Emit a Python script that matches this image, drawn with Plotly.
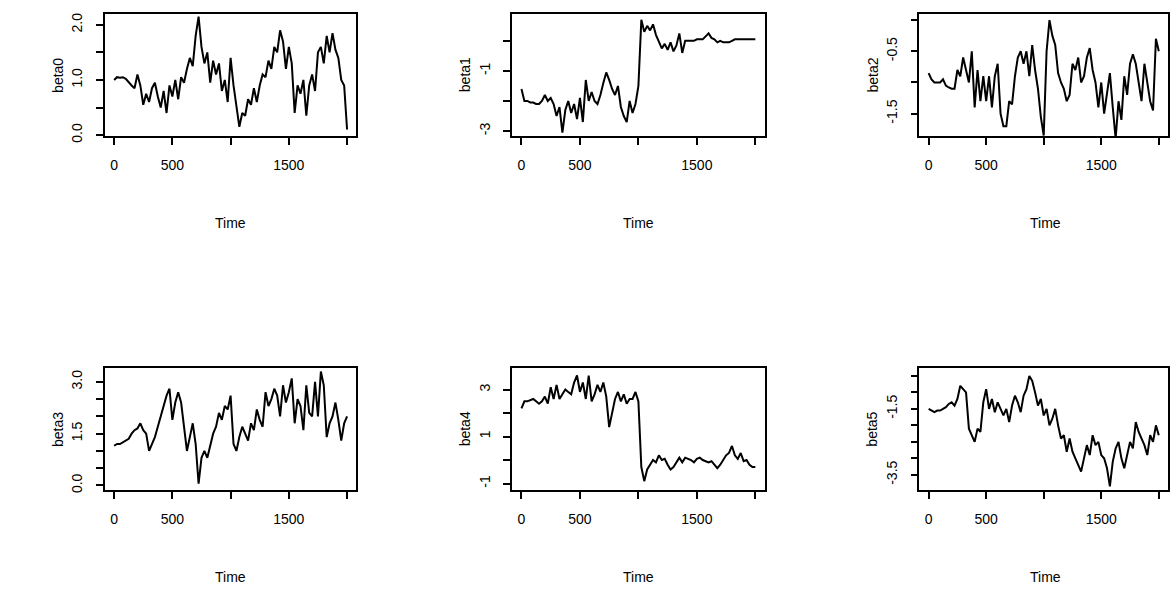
import plotly.graph_objects as go

W, H = 1170, 594

time = list(range(0, 2001, 25))

beta0 = [1.0, 1.05, 1.04, 1.05, 1.02, 0.95, 0.9, 0.85, 1.1, 0.9, 0.55, 0.75, 0.6, 0.85, 0.95, 0.7, 0.5,
         0.8, 0.4, 0.9, 0.7, 1.0, 0.65, 1.05, 0.95, 1.2, 1.4, 1.25, 1.8, 2.15, 1.6, 1.3, 1.5, 0.95, 1.35,
         1.1, 1.3, 0.8, 1.0, 0.6, 1.4, 0.9, 0.5, 0.15, 0.4, 0.35, 0.65, 0.55, 0.85, 0.6, 0.9, 1.1, 1.05,
         1.35, 1.2, 1.6, 1.5, 1.9, 1.7, 1.2, 1.6, 1.3, 0.4, 0.9, 0.75, 1.0, 0.35, 0.9, 1.1, 0.8, 1.5, 1.6,
         1.3, 1.8, 1.5, 1.85, 1.55, 1.4, 1.0, 0.9, 0.1]
beta1 = [-1.6, -2.0, -2.0, -2.05, -2.05, -2.1, -2.1, -2.0, -1.8, -2.0, -1.9, -2.1, -2.5, -2.2, -3.05, -2.3,
         -2.0, -2.4, -2.1, -2.6, -1.9, -2.7, -1.3, -2.0, -1.7, -2.0, -2.1, -1.8, -1.4, -1.05, -1.3, -1.6,
         -1.8, -1.5, -2.2, -2.5, -2.7, -2.0, -2.4, -2.1, -1.5, 0.7, 0.3, 0.5, 0.35, 0.55, 0.2, 0.0, -0.25,
         -0.1, -0.3, -0.05, -0.35, -0.15, 0.25, -0.4, 0.0, 0.0, 0.0, 0.0, 0.05, 0.05, 0.05, 0.15, 0.25, 0.1,
         0.05, -0.05, 0.0, -0.05, -0.05, -0.05, 0.0, 0.05, 0.05, 0.05, 0.05, 0.05, 0.05, 0.05, 0.05]
beta2 = [-0.85, -0.95, -1.0, -1.0, -1.0, -0.95, -1.05, -1.08, -1.1, -1.1, -0.8, -0.9, -0.6, -0.8, -1.0, -0.5,
         -1.4, -0.8, -1.3, -0.9, -1.3, -0.9, -1.4, -0.9, -0.7, -1.5, -1.7, -1.7, -1.3, -1.35, -0.9, -0.6,
         -0.5, -0.7, -0.5, -0.9, -0.4, -0.8, -1.1, -1.55, -1.85, -0.5, 0.0, -0.25, -0.4, -0.85, -1.0, -1.1,
         -1.3, -1.2, -0.7, -0.8, -0.6, -1.0, -0.9, -0.6, -0.45, -0.8, -1.0, -1.4, -1.0, -1.5, -1.2, -0.85,
         -1.4, -1.9, -1.3, -1.6, -0.9, -1.2, -0.7, -0.55, -0.7, -1.0, -1.3, -0.7, -1.0, -1.3, -1.45, -0.3, -0.5]
beta3 = [1.15, 1.2, 1.2, 1.25, 1.3, 1.35, 1.5, 1.6, 1.65, 1.8, 1.6, 1.5, 1.0, 1.2, 1.4, 1.7, 2.0, 2.3, 2.6,
         2.8, 1.9, 2.4, 2.7, 2.4, 1.6, 1.0, 1.4, 1.8, 1.2, 0.05, 0.8, 1.0, 0.8, 1.2, 1.5, 1.7, 2.1, 1.9, 2.3,
         2.2, 2.6, 1.2, 1.0, 1.4, 1.7, 1.5, 1.3, 1.8, 1.6, 2.2, 1.9, 1.7, 2.7, 2.3, 2.5, 2.8, 2.6, 2.0, 2.9,
         2.4, 2.7, 3.1, 1.8, 2.5, 2.3, 1.6, 2.9, 2.1, 2.0, 3.0, 2.0, 3.3, 2.9, 1.4, 1.8, 2.0, 2.4, 1.9, 1.3,
         1.8, 2.0]
beta4 = [2.2, 2.5, 2.5, 2.55, 2.6, 2.5, 2.4, 2.5, 2.7, 2.4, 3.1, 2.6, 3.2, 2.6, 2.8, 3.0, 2.9, 2.8, 3.3, 3.6,
         2.9, 3.3, 2.6, 3.6, 2.5, 2.8, 3.2, 2.9, 3.3, 2.7, 1.4, 2.0, 2.6, 2.9, 2.5, 2.8, 2.4, 2.6, 2.6, 2.9,
         2.5, -0.3, -0.9, -0.4, -0.2, 0.0, -0.1, 0.2, 0.0, 0.05, -0.2, -0.4, -0.3, -0.1, 0.1, -0.1, 0.1, 0.05,
         0.0, -0.1, 0.05, 0.1, 0.0, -0.05, -0.1, -0.05, -0.2, -0.35, -0.2, 0.0, 0.2, 0.3, 0.6, 0.2, 0.05, 0.3,
         -0.05, 0.0, -0.2, -0.3, -0.3]
beta5 = [-1.5, -1.55, -1.6, -1.55, -1.55, -1.5, -1.45, -1.35, -1.3, -1.4, -1.2, -0.8, -0.9, -1.0, -2.1, -2.3,
         -2.5, -2.1, -2.2, -1.3, -0.9, -1.5, -1.2, -1.6, -1.3, -1.5, -1.7, -1.5, -1.9, -1.4, -1.1, -1.3, -1.6,
         -1.1, -0.9, -0.5, -0.65, -1.0, -1.4, -1.2, -1.7, -1.5, -2.0, -1.8, -1.5, -2.0, -2.4, -2.3, -2.8,
         -2.4, -2.8, -3.0, -3.2, -3.4, -3.0, -2.6, -2.9, -2.3, -2.6, -2.5, -2.9, -3.0, -3.3, -3.85, -3.1,
         -2.7, -2.5, -3.0, -3.3, -2.9, -2.5, -2.7, -1.9, -2.2, -2.4, -2.6, -2.9, -2.3, -2.5, -2.0, -2.3]

names = ["beta0", "beta1", "beta2", "beta3", "beta4", "beta5"]
series = [beta0, beta1, beta2, beta3, beta4, beta5]

# y ticks: (values, labels shown) and ranges, as R drew them
yticks = [
    ([0, 0.5, 1, 1.5, 2], ["0.0", "", "1.0", "", "2.0"]),
    ([-3, -2, -1, 0], ["-3", "", "-1", ""]),
    ([0, -0.5, -1, -1.5], ["", "-0.5", "", "-1.5"]),
    ([0, 0.5, 1, 1.5, 2, 2.5, 3], ["0.0", "", "", "1.5", "", "", "3.0"]),
    ([-1, 0, 1, 2, 3], ["-1", "", "1", "", "3"]),
    ([-0.5, -1, -1.5, -2, -2.5, -3, -3.5], ["", "", "-1.5", "", "", "", "-3.5"]),
]
yranges = [(-0.02, 2.2), (-3.17, 0.9), (-1.86, 0.1), (-0.14, 3.4), (-1.29, 3.92), (-3.97, -0.26)]

# panel boxes in pixels: (left, right), (top, bottom)
cols = [(105, 357), (513, 766), (921, 1173)]
rows = [(13, 137), (372, 496)]

fig = go.Figure()
font = dict(family="Liberation Sans, Arial", size=14, color="black")

for i, (name, y) in enumerate(zip(names, series)):
    r, c = divmod(i, 3)
    (x0, x1), (t, b) = cols[c], rows[r]
    xa = "xaxis" if i == 0 else f"xaxis{i + 1}"
    ya = "yaxis" if i == 0 else f"yaxis{i + 1}"
    xs = "x" if i == 0 else f"x{i + 1}"
    ys = "y" if i == 0 else f"y{i + 1}"
    fig.add_trace(go.Scatter(x=time, y=y, mode="lines", xaxis=xs, yaxis=ys,
                             line=dict(color="black", width=2), showlegend=False))
    common = dict(showline=True, mirror=True, linecolor="black", linewidth=1.5,
                  ticks="outside", ticklen=7, tickwidth=1.5, tickcolor="black",
                  showgrid=False, zeroline=False, tickfont=font, ticklabelstandoff=8)
    fig.update_layout({
        xa: dict(domain=[x0 / W, min(x1 / W, 1)], anchor=ys, range=[-80, 2080],
                 tickvals=[0, 500, 1000, 1500, 2000], ticktext=["0", "500", "", "1500", ""],
                 **common),
        ya: dict(domain=[1 - b / H, 1 - t / H], anchor=xs, range=list(yranges[i]),
                 tickvals=yticks[i][0], ticktext=yticks[i][1], tickangle=-90, **common),
    })
    fig.add_annotation(x=(x0 - 47) / W, y=1 - (t + b) / 2 / H, xref="paper", yref="paper",
                       xanchor="center", yanchor="middle",
                       text=name, textangle=-90, showarrow=False, font=font)
    fig.add_annotation(x=(x0 + x1) / 2 / W, y=1 - (b + 88) / H, xref="paper", yref="paper",
                       xanchor="center", yanchor="middle",
                       text="Time", showarrow=False, font=font)

fig.update_layout(width=W, height=H, margin=dict(l=0, r=0, t=0, b=0),
                  plot_bgcolor="white", paper_bgcolor="white")
fig.write_html("out.html", config={"displayModeBar": False})

# drop the default page margin so the figure sits at the window's corner
with open("out.html", encoding="utf-8") as f:
    page = f.read()
page = page.replace("<head>", "<head><style>body{margin:0;overflow:hidden}</style>", 1)
with open("out.html", "w", encoding="utf-8") as f:
    f.write(page)
